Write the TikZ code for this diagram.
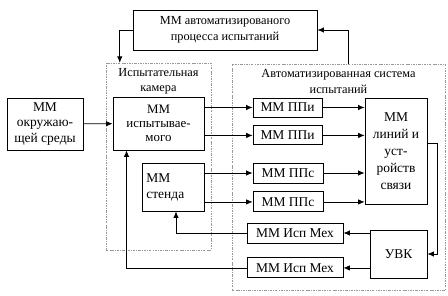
\documentclass[tikz,border=0pt]{standalone}
\usepackage{fontspec}
\setmainfont{Liberation Serif}
\usetikzlibrary{positioning,arrows.meta}
\tikzset{
  box/.style={rectangle, draw=black, thick, inner sep=1pt, align=center,
              font=\fontsize{11.5}{13.5}\selectfont},
  frame/.style={rectangle, draw=gray!80, thin, inner sep=0pt,
                dash pattern=on 2pt off 1pt on 0.6pt off 1pt},
  caption/.style={font=\fontsize{10.5}{13}\selectfont, align=center},
  arr/.style={-{Latex[length=1.9mm,width=1.6mm]}, semithick},
}

\begin{document}
\begin{tikzpicture}[x=0.3mm, y=-0.3mm]
  \useasboundingbox (0,0) rectangle (448,296);

  %% --- frames ---
  \node[frame, minimum width=31.5mm, minimum height=56.1mm] (cam) at (158.5,156.5) {};
  \node[frame, minimum width=63.9mm, minimum height=67.8mm] (sys) at (338.5,177) {};
  \node[caption] (cam_lbl) at (158.5,81.5) {Испытательная\\камера};
  \node[caption] (sys_lbl) at (338.5,81.5) {Автоматизированная система\\испытаний};

  %% --- blocks ---
  \node[box, minimum width=55.2mm, minimum height=12mm,
        font=\fontsize{10.5}{13.6}\selectfont] (proc) at (225,30)
        {ММ автоматизированого\\процесса испытаний};
  \node[box, minimum width=22.8mm, minimum height=15.6mm] (env) at (45,124)
        {ММ\\окружаю-\\щей среды};
  \node[box, minimum width=27.3mm, minimum height=15.9mm,
        font=\fontsize{11}{12}\selectfont] (isp) at (158.5,123.5)
        {ММ\\испытывае-\\мого};
  \node[box, minimum width=18.6mm, minimum height=14.4mm,
        text width=16mm, align=left] (stend) at (173,187) {ММ\\стенда};

  \node[box, minimum width=20.7mm, minimum height=5.7mm] (ppi1) at (287.5,107.5) {ММ ППи};
  \node[box, minimum width=20.7mm, minimum height=5.7mm, below=2.4mm of ppi1] (ppi2) {ММ ППи};
  \node[box, minimum width=21mm, minimum height=6mm] (pps1) at (288,173) {ММ ППс};
  \node[box, minimum width=21mm, minimum height=6mm, below=2.4mm of pps1] (pps2) {ММ ППс};

  \node[box, minimum width=18.6mm, minimum height=31.8mm,
        font=\fontsize{11.5}{14.5}\selectfont] (lin) at (396,151)
        {ММ\\линий и\\уст-\\ройств\\связи};

  \node[box, minimum width=28.8mm, minimum height=6mm] (mex1) at (295,233) {ММ Исп Мех};
  \node[box, minimum width=28.8mm, minimum height=6mm, below=4.2mm of mex1] (mex2) {ММ Исп Мех};
  \node[box, minimum width=17.1mm, minimum height=14.4mm] (uvk) at (398.5,254) {УВК};

  %% --- connectors ---
  \draw[arr] (env) -- (isp);
  \draw[arr] (proc.west) -| ([xshift=4.2mm]cam.north west);
  \draw[arr] ([xshift=-29.1mm]sys.north east) |- (proc.east);

  \draw[arr] (isp.east |- ppi1) -- (ppi1);
  \draw[arr] (isp.east |- ppi2) -- (ppi2);
  \draw[arr] (stend.east |- pps1) -- (pps1);
  \draw[arr] (stend.east |- pps2) -- (pps2);

  \draw[arr] (ppi1) -- (ppi1 -| lin.west);
  \draw[arr] (ppi2) -- (ppi2 -| lin.west);
  \draw[arr] (pps1) -- (pps1 -| lin.west);
  \draw[arr] (pps2) -- (pps2 -| lin.west);

  \draw[arr] ([yshift=2.4mm]lin.east) -- ++(10,0) |- (uvk.east);
  \draw[arr] (uvk.west |- mex1) -- (mex1);
  \draw[arr] (uvk.west |- mex2) -- (mex2);

  \draw[arr] (mex1.west) -| ([xshift=0.9mm]stend.south);
  \draw[arr] (mex2.west) -| ([xshift=4.2mm]isp.south west);
\end{tikzpicture}
\end{document}
